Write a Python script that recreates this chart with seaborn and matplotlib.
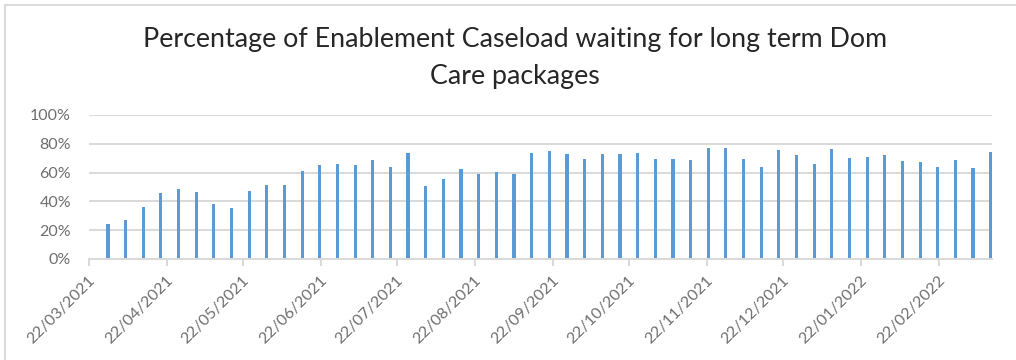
import pandas as pd
import matplotlib
matplotlib.use("Agg")
import matplotlib.pyplot as plt
import matplotlib.dates as mdates
import matplotlib.transforms as mtransforms
from matplotlib.lines import Line2D
from matplotlib.ticker import PercentFormatter, MultipleLocator
import seaborn as sns

# Weekly share of the enablement caseload waiting for a long term dom care package (%)
first_week = "2021-03-29"
pct_waiting = [
    24.1, 27.1, 36.1, 46.1, 48.8, 46.8, 38.2, 35.6, 47.5, 51.6, 51.6, 60.9, 65.0, 66.0,
    65.3, 68.8, 63.9, 73.8, 50.5, 55.3, 62.5, 58.8, 60.4, 59.0, 73.8, 75.2, 73.1, 69.4,
    73.1, 73.1, 73.8, 69.4,
    69.4, 68.8, 77.3, 77.3, 69.4, 63.9, 75.9, 72.5, 66.0, 76.6, 70.1, 70.8, 72.5, 68.1,
    67.4, 63.9, 68.8, 63.2, 74.5,
]
axis_start = "2021-03-22"
axis_end = "2022-03-15"
tick_months = pd.date_range("2021-03-22", "2022-02-22", freq=pd.DateOffset(months=1))
tick_labels = [d.strftime("%d/%m/%Y") for d in tick_months]

week_dates = pd.date_range(first_week, periods=len(pct_waiting), freq="7D")
# each date occupies a one-day slot on the axis; the bar sits in the middle of it
df = pd.DataFrame({"day": mdates.date2num(week_dates) + 0.5, "pct": pct_waiting})

sns.set_theme(style="white")
plt.rcParams["font.family"] = ["Lato", "DejaVu Sans"]

W, H = 1016, 360
fig = plt.figure(figsize=(W / 100, H / 100), dpi=100)
fig.patch.set_facecolor("white")
ax = fig.add_axes([89 / W, 1 - 259 / H, 903 / W, 144 / H])

sns.barplot(data=df, x="day", y="pct", native_scale=True, color="#5B9BD5",
            saturation=1, width=0.18, errorbar=None, linewidth=0, ax=ax)

ax.set_xlim(mdates.date2num(pd.Timestamp(axis_start)), mdates.date2num(pd.Timestamp(axis_end)))
ax.set_ylim(0, 100)
ax.set_xlabel("")
ax.set_ylabel("")

grid_col = "#D9D9D9"
label_col = "#6E6E6E"
ax.yaxis.set_major_locator(MultipleLocator(20))
ax.yaxis.set_major_formatter(PercentFormatter(100, decimals=0))
ax.grid(axis="y", color=grid_col, linewidth=1.4)
ax.grid(axis="x", visible=False)
ax.set_axisbelow(True)
for side in ("top", "right", "left"):
    ax.spines[side].set_visible(False)
ax.spines["bottom"].set_color(grid_col)
ax.spines["bottom"].set_linewidth(1.4)

ax.set_xticks(mdates.date2num(tick_months))
ax.set_xticklabels(tick_labels)
ax.tick_params(axis="x", bottom=True, direction="out", length=5, width=1.4, color=grid_col,
               labelsize=11.5, labelcolor=label_col, pad=9)
ax.tick_params(axis="y", left=False, length=0, labelsize=11.5, labelcolor=label_col, pad=13)
shift = mtransforms.ScaledTranslation(4 / 100, 0, fig.dpi_scale_trans)
for lbl in ax.get_xticklabels():
    lbl.set_rotation(45)
    lbl.set_ha("right")
    lbl.set_va("center")
    lbl.set_rotation_mode("anchor")
    lbl.set_transform(lbl.get_transform() + shift)

title_col = "#262626"
fig.text(515 / W, 1 - 46.7 / H, "Percentage of Enablement Caseload waiting for long term Dom",
         ha="center", va="baseline", fontsize=19.3, color=title_col)
fig.text(515 / W, 1 - 84 / H, "Care packages",
         ha="center", va="baseline", fontsize=19.3, color=title_col)

# chart frame edges
fig.add_artist(Line2D([5 / W, 1], [1 - 5 / H, 1 - 5 / H], transform=fig.transFigure,
                      color=grid_col, linewidth=1.4))
fig.add_artist(Line2D([5 / W, 5 / W], [0, 1 - 5 / H], transform=fig.transFigure,
                      color=grid_col, linewidth=1.4))

fig.savefig("out.png", dpi=100, facecolor="white")
